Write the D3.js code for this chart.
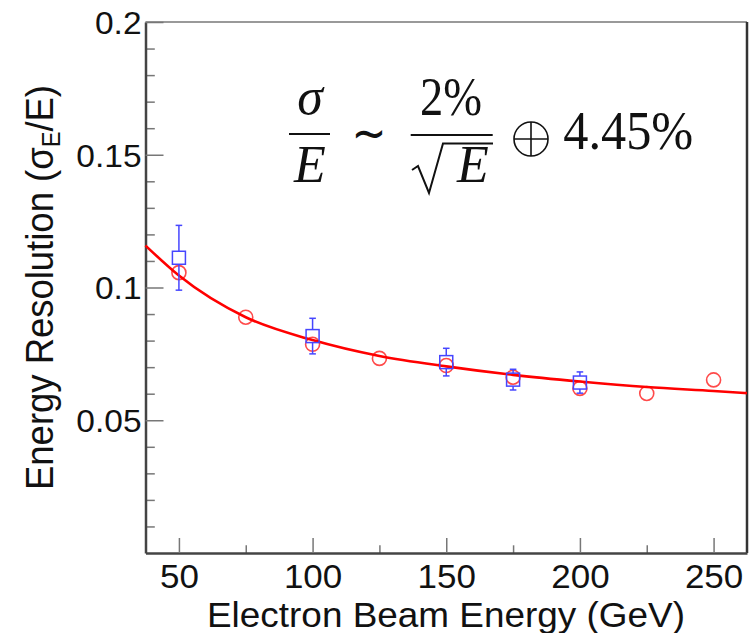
<!DOCTYPE html>
<html>

<head>
    <meta charset="utf-8">
    <style>
        body {
            margin: 0;
            background: #fff;
        }

        svg {
            display: block;
        }

        .tick text {
            font-family: 'Liberation Sans', Arial, Helvetica, sans-serif;
            fill: #111;
        }

        .tick line {
            stroke: #777;
            stroke-width: 1.5px;
        }

        .domain {
            stroke: #444;
            stroke-width: 2.5px;
        }

        .axis-title {
            font-family: 'Liberation Sans', Arial, Helvetica, sans-serif;
            fill: #111;
        }

        .formula text {
            font-family: 'Liberation Serif', 'Times New Roman', serif;
            fill: #111;
        }
    </style>
</head>

<body>
    <svg width="751" height="633"></svg>
</body>

<script src="https://d3js.org/d3.v7.min.js"></script>

<script>
    // data
    let energies = [50, 75, 100, 125, 150, 175, 200, 225, 250];
    let resCircles = [0.1056, 0.0888, 0.0786, 0.0733, 0.0706, 0.0662, 0.0620, 0.0601, 0.0652];

    let squareEnergies = [50, 100, 150, 175, 200];
    let resSquares = [0.1112, 0.0817, 0.0719, 0.0653, 0.0642];
    let squareErrors = [0.0122, 0.0067, 0.0052, 0.0039, 0.0040];

    // fitted curve
    let fitEnergies = [37.5, 50, 75, 100, 125, 150, 175, 200, 225, 250, 262.5];
    let fitValues = [0.1158, 0.1045, 0.0888, 0.0802, 0.0742, 0.0703, 0.0671, 0.0646, 0.0625, 0.0610, 0.0602];

    let xTicks = [50, 100, 150, 200, 250];
    let xMinorTicks = [75, 125, 175, 225];
    let yTicks = [0.05, 0.1, 0.15, 0.2];
    let yTickLabels = ["0.05", "0.1", "0.15", "0.2"];
    let yMinorTicks = [0.01, 0.02, 0.03, 0.04, 0.06, 0.07, 0.08, 0.09, 0.11, 0.12, 0.13, 0.14, 0.16, 0.17, 0.18, 0.19];

    let svg = d3.select("svg")

    let margin = { top: 22, right: 4, bottom: 80, left: 145.5 };
    let width = 751;
    let height = 633;

    let x = d3.scaleLinear()
        .domain([37.5, 262.5])
        .range([margin.left, width - margin.right])

    let y = d3.scaleLinear()
        .domain([0, 0.2])
        .range([height - margin.bottom, margin.top])

    // frame: top and right
    svg.append("line")
        .attr("x1", x.range()[0]).attr("x2", x.range()[1])
        .attr("y1", y.range()[1]).attr("y2", y.range()[1])
        .attr("stroke", "#999").attr("stroke-width", 2)

    svg.append("line")
        .attr("x1", x.range()[1]).attr("x2", x.range()[1])
        .attr("y1", y.range()[1]).attr("y2", y.range()[0])
        .attr("stroke", "#333").attr("stroke-width", 2.5)

    // minor ticks first
    svg.append("g")
        .attr("transform", `translate(0, ${y.range()[0]})`)
        .call(d3.axisBottom(x).tickValues(xMinorTicks).tickSizeInner(-7.7).tickSizeOuter(0).tickFormat(""))
        .call(g => g.select(".domain").remove())

    svg.append("g")
        .attr("transform", `translate(${x.range()[0]}, 0)`)
        .call(d3.axisLeft(y).tickValues(yMinorTicks).tickSizeInner(-9.3).tickSizeOuter(0).tickFormat(""))
        .call(g => g.select(".domain").remove())

    let xAxis = svg.append("g")
        .attr("class", "x axis")
        .attr("transform", `translate(0, ${y.range()[0]})`)
        .call(d3.axisBottom(x)
            .tickValues(xTicks)
            .tickSizeInner(-15)
            .tickSizeOuter(0)
            .tickPadding(12))

    xAxis.selectAll(".tick text")
        .attr("font-size", 33)
        .attr("dy", "0.71em")
        .each(function () {
            let t = d3.select(this)
            t.attr("textLength", this.getComputedTextLength() * 1.06)
                .attr("lengthAdjust", "spacingAndGlyphs")
        })

    let yAxis = svg.append("g")
        .attr("class", "y axis")
        .attr("transform", `translate(${x.range()[0]}, 0)`)
        .call(d3.axisLeft(y)
            .tickValues(yTicks)
            .tickSizeInner(-18)
            .tickSizeOuter(0)
            .tickPadding(4)
            .tickFormat((d, i) => yTickLabels[i]))

    yAxis.selectAll(".tick text")
        .attr("font-size", 31)
        .attr("dy", "0.37em")
        .each(function () {
            let t = d3.select(this)
            t.attr("textLength", this.getComputedTextLength() * 1.08)
                .attr("lengthAdjust", "spacingAndGlyphs")
        })

    // axis titles
    svg.append("text")
        .attr("class", "axis-title")
        .attr("x", 446)
        .attr("y", 626.5)
        .attr("text-anchor", "middle")
        .attr("font-size", 35)
        .attr("textLength", 478)
        .attr("lengthAdjust", "spacingAndGlyphs")
        .text("Electron Beam Energy (GeV)")

    let yTitle = svg.append("text")
        .attr("class", "axis-title")
        .attr("transform", "translate(53, 287.5) scale(1.15, 1) rotate(-90)")
        .attr("text-anchor", "middle")
        .attr("font-size", 34)
        .attr("textLength", 405)
        .attr("lengthAdjust", "spacingAndGlyphs")

    yTitle.append("tspan").text("Energy Resolution (σ")
    yTitle.append("tspan").attr("font-size", 22).attr("dy", 6).text("E")
    yTitle.append("tspan").attr("dy", -6).text("/E)")

    // red circles
    let circles = energies.map((e, i) => ({ e: e, v: resCircles[i] }))

    svg.append("g")
        .selectAll("circle")
        .data(circles)
        .join("circle")
        .attr("cx", d => x(d.e))
        .attr("cy", d => y(d.v))
        .attr("r", 7)
        .attr("fill", "none")
        .attr("stroke", "#ff4a4a")
        .attr("stroke-width", 1.6)

    // fit line
    let fit = fitEnergies.map((e, i) => ({ e: e, v: fitValues[i] }))

    let line = d3.line()
        .x(d => x(d.e))
        .y(d => y(d.v))
        .curve(d3.curveMonotoneX)

    svg.append("path")
        .datum(fit)
        .attr("d", line)
        .attr("fill", "none")
        .attr("stroke", "#ff0000")
        .attr("stroke-width", 2.6)

    // blue squares with error bars
    let squares = squareEnergies.map((e, i) => ({ e: e, v: resSquares[i], err: squareErrors[i] }))
    let half = 6.5;
    let blue = "#4646ff";

    let sq = svg.append("g")
        .selectAll("g")
        .data(squares)
        .join("g")
        .attr("stroke", blue)
        .attr("stroke-width", 1.5)
        .attr("fill", "none")

    sq.append("line")
        .attr("x1", d => x(d.e)).attr("x2", d => x(d.e))
        .attr("y1", d => y(d.v + d.err)).attr("y2", d => Math.max(y(d.v) - half, y(d.v + d.err)))

    sq.append("line")
        .attr("x1", d => x(d.e)).attr("x2", d => x(d.e))
        .attr("y1", d => Math.min(y(d.v) + half, y(d.v - d.err))).attr("y2", d => y(d.v - d.err))

    sq.append("line")
        .attr("x1", d => x(d.e) - 3.3).attr("x2", d => x(d.e) + 3.3)
        .attr("y1", d => y(d.v + d.err)).attr("y2", d => y(d.v + d.err))

    sq.append("line")
        .attr("x1", d => x(d.e) - 3.3).attr("x2", d => x(d.e) + 3.3)
        .attr("y1", d => y(d.v - d.err)).attr("y2", d => y(d.v - d.err))

    sq.append("rect")
        .attr("x", d => x(d.e) - half)
        .attr("y", d => y(d.v) - half)
        .attr("width", half * 2)
        .attr("height", half * 2)

    // formula annotation
    let f = svg.append("g").attr("class", "formula")

    f.append("text")
        .attr("x", 310).attr("y", 113.5)
        .attr("text-anchor", "middle")
        .attr("font-size", 52)
        .attr("font-style", "italic")
        .text("σ")

    f.append("line")
        .attr("x1", 289).attr("x2", 330)
        .attr("y1", 134).attr("y2", 134)
        .attr("stroke", "#111").attr("stroke-width", 2)

    f.append("text")
        .attr("x", 310).attr("y", 181.7)
        .attr("text-anchor", "middle")
        .attr("font-size", 52)
        .attr("font-style", "italic")
        .text("E")

    f.append("text")
        .attr("x", 369).attr("y", 150)
        .attr("text-anchor", "middle")
        .attr("font-size", 50)
        .attr("textLength", 35)
        .attr("lengthAdjust", "spacingAndGlyphs")
        .style("font-family", "'DejaVu Sans', sans-serif")
        .text("∼")

    f.append("text")
        .attr("x", 451).attr("y", 114.5)
        .attr("text-anchor", "middle")
        .attr("font-size", 54)
        .attr("textLength", 62)
        .attr("lengthAdjust", "spacingAndGlyphs")
        .text("2%")

    f.append("line")
        .attr("x1", 410.7).attr("x2", 492.7)
        .attr("y1", 135).attr("y2", 135)
        .attr("stroke", "#111").attr("stroke-width", 2)

    // square root sign
    f.append("path")
        .attr("d", "M412,170 L418,166 L429,193 L443,143.5 L493,143.5")
        .attr("fill", "none")
        .attr("stroke", "#111")
        .attr("stroke-width", 2)
        .attr("stroke-linejoin", "miter")

    f.append("text")
        .attr("x", 473).attr("y", 181.7)
        .attr("text-anchor", "middle")
        .attr("font-size", 52)
        .attr("font-style", "italic")
        .text("E")

    // circled plus, drawn thin like the TeX glyph
    let oplus = f.append("g")
        .attr("stroke", "#111")
        .attr("stroke-width", 1.6)
        .attr("fill", "none")

    oplus.append("circle").attr("cx", 531).attr("cy", 139).attr("r", 17)
    oplus.append("line").attr("x1", 514).attr("x2", 548).attr("y1", 139).attr("y2", 139)
    oplus.append("line").attr("x1", 531).attr("x2", 531).attr("y1", 122).attr("y2", 156)

    f.append("text")
        .attr("x", 563.3).attr("y", 149)
        .attr("font-size", 54)
        .attr("textLength", 130)
        .attr("lengthAdjust", "spacingAndGlyphs")
        .text("4.45%")
</script>

</html>
